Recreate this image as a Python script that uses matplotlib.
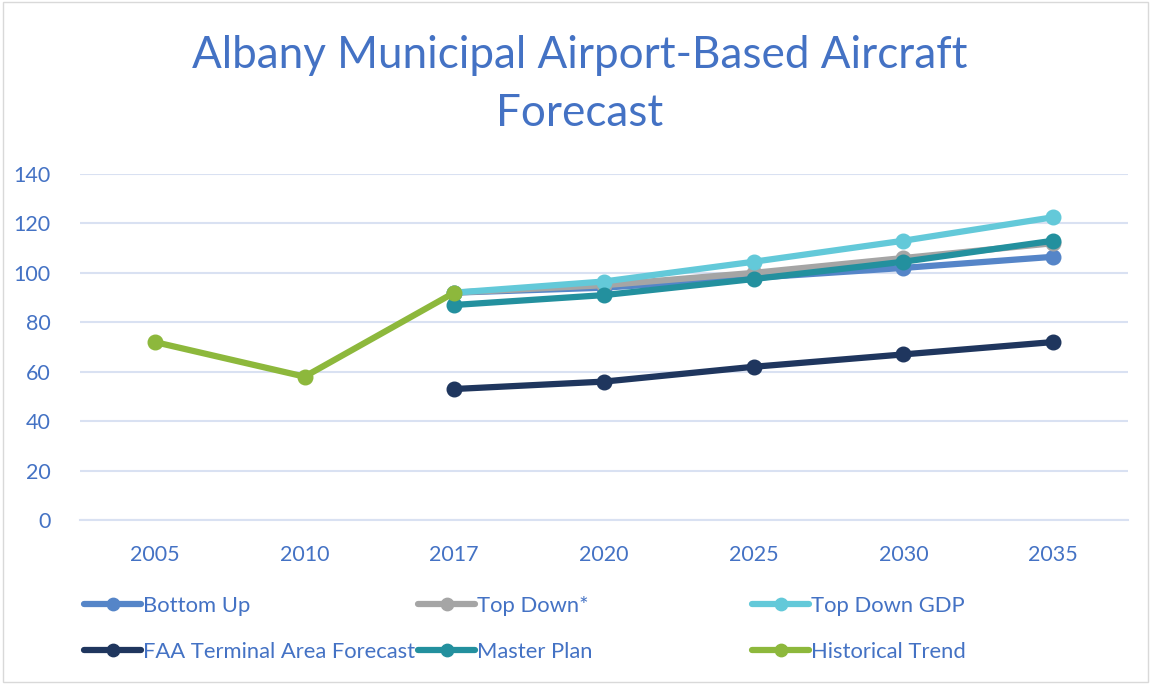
import matplotlib.pyplot as plt
import numpy as np
from matplotlib.patches import Rectangle

plt.rcParams['font.family'] = ['Lato', 'DejaVu Sans']

years = ['2005', '2010', '2017', '2020', '2025', '2030', '2035']
bottom_up = [None, None, 92, 94, 98, 102, 106.5]
top_down = [None, None, 92, 95, 100, 106, 112]
top_down_gdp = [None, None, 92, 96.5, 104.5, 113, 122.5]
faa_taf = [None, None, 53, 56, 62, 67, 72]
master_plan = [None, None, 87, 91, 97.5, 104.5, 113]
historical = [72, 58, 92, None, None, None, None]

series = [
    ('Bottom Up', bottom_up, '#5585C8'),
    ('Top Down*', top_down, '#A5A5A5'),
    ('Top Down GDP', top_down_gdp, '#63C9D9'),
    ('FAA Terminal Area Forecast', faa_taf, '#1F365E'),
    ('Master Plan', master_plan, '#23909E'),
    ('Historical Trend', historical, '#8DB83C'),
]

txt = '#4472C4'
grid = '#D9E1F2'

fig = plt.figure(figsize=(11.51, 6.84), dpi=100)
ax = fig.add_axes([80 / 1151, 1 - 520 / 684, 1048 / 1151, 346 / 684])

x = np.arange(len(years))
handles = []
for name, vals, col in series:
    v = np.array([np.nan if a is None else a for a in vals], dtype=float)
    ln, = ax.plot(x, v, color=col, lw=4.5, marker='o', ms=10.5,
                  solid_capstyle='round', label=name)
    handles.append(ln)

ax.set_xlim(-0.5, len(years) - 0.5)
ax.set_ylim(0, 140)
ax.set_yticks(range(0, 141, 20))
ax.set_xticks(x)
ax.set_xticklabels(years)
ax.tick_params(length=0, labelsize=15.5, labelcolor=txt)
ax.tick_params(axis='y', pad=21)
ax.tick_params(axis='x', pad=18)
ax.grid(axis='y', color=grid, lw=1.5)
ax.set_axisbelow(True)
for s in ['top', 'right', 'left']:
    ax.spines[s].set_visible(False)
ax.spines['bottom'].set_color(grid)
ax.spines['bottom'].set_linewidth(1.5)

fig.text(0.504, 1 - 55 / 684, 'Albany Municipal Airport-Based Aircraft',
         ha='center', va='center', fontsize=31.7, color=txt)
fig.text(0.504, 1 - 114 / 684, 'Forecast',
         ha='center', va='center', fontsize=31.7, color=txt)

# legend in three columns
cols_x = [84, 418, 752]
for i, cx in enumerate(cols_x):
    hs = [handles[i], handles[i + 3]]
    leg = fig.legend(hs, [h.get_label() for h in hs], loc='upper left',
                     bbox_to_anchor=(cx / 1151, 1 - 596 / 684), frameon=False,
                     fontsize=15.8, handlelength=2.6, handletextpad=0.1,
                     labelspacing=1.18, borderaxespad=0, borderpad=0,
                     markerscale=0.85)
    for t in leg.get_texts():
        t.set_color(txt)

fig.patches.append(Rectangle((0.003, 0.003), 0.994, 0.994, transform=fig.transFigure,
                             fill=False, edgecolor='#D9D9D9', lw=1))

fig.savefig('out.png', dpi=100)
